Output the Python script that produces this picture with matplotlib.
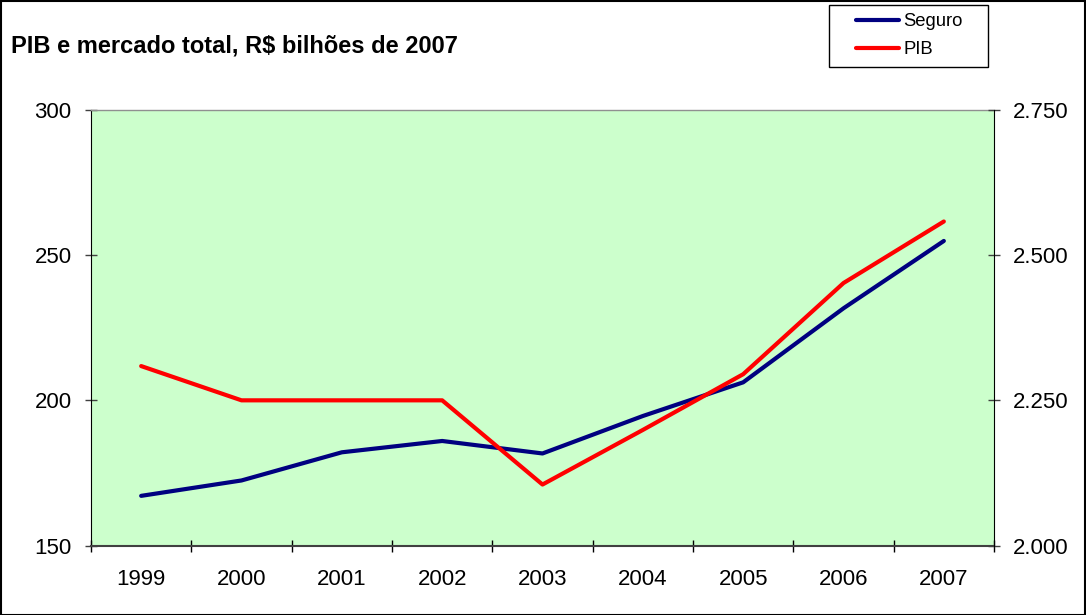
import matplotlib
matplotlib.use("Agg")
import matplotlib.pyplot as plt
from matplotlib.ticker import FixedLocator, FuncFormatter
from matplotlib.patches import Rectangle

years = ["1999", "2000", "2001", "2002", "2003", "2004", "2005", "2006", "2007"]
seguro = [167.1, 172.4, 182.1, 186.0, 181.7, 194.6, 206.2, 231.7, 254.9]
pib = [2309, 2250, 2250, 2250, 2105, 2199, 2295, 2452, 2558]
left_ticks = [150, 200, 250, 300]
right_ticks = [2000, 2250, 2500, 2750]

plt.rcParams['font.family'] = ['Liberation Sans', 'DejaVu Sans']

W, H = 1086, 615
fig = plt.figure(figsize=(W / 100, H / 100), dpi=100)
fig.patch.set_facecolor('white')

ax = fig.add_axes([91 / W, 1 - 545.5 / H, (994 - 91) / W, (545.5 - 110) / H])
ax.set_facecolor('#CCFFCC')
ax2 = ax.twinx()

x = list(range(len(years)))
l1, = ax.plot(x, seguro, color='#000080', lw=3.0, solid_capstyle='round', solid_joinstyle='round', label='Seguro', zorder=3)
l2, = ax2.plot(x, pib, color='#FF0000', lw=3.0, solid_capstyle='round', solid_joinstyle='round', label='PIB', zorder=3)

ax.set_xlim(-0.5, len(years) - 0.5)
ax.set_ylim(150, 300)
ax2.set_ylim(2000, 2750)

# x ticks: marks at boundaries, labels at centres
ax.xaxis.set_major_locator(FixedLocator([i - 0.5 for i in range(len(years) + 1)]))
ax.xaxis.set_major_formatter(FuncFormatter(lambda v, p: ''))
ax.xaxis.set_minor_locator(FixedLocator(x))
ax.xaxis.set_minor_formatter(FuncFormatter(lambda v, p: years[int(round(v))]))
ax.tick_params(axis='x', which='major', direction='inout', length=9, width=1, color='black')
ax.tick_params(axis='x', which='minor', length=0, pad=17, labelsize=16)

ax.set_yticks(left_ticks)
ax.tick_params(axis='y', which='major', direction='inout', length=9, width=1, color='#404040', pad=9.5, labelsize=16)
ax2.set_yticks(right_ticks)
ax2.yaxis.set_major_formatter(FuncFormatter(lambda v, p: f"{v/1000:.3f}"))
ax2.tick_params(axis='y', which='major', direction='inout', length=9, width=1, color='#404040', pad=9, labelsize=16)

for a in (ax, ax2):
    a.spines['top'].set_color('#909090')
    a.spines['top'].set_linewidth(1)
    a.spines['bottom'].set_color('#404040')
    a.spines['bottom'].set_linewidth(1.5)
    a.spines['left'].set_color('black')
    a.spines['right'].set_color('black')
ax.spines['right'].set_visible(False)
ax2.spines['left'].set_visible(False)
ax2.spines['bottom'].set_visible(False)
ax2.spines['top'].set_visible(False)

fig.text(11 / W, 1 - 46 / H, "PIB e mercado total, R$ bilhões de 2007", fontsize=17,
         fontweight='bold', va='center', ha='left')

# legend box
fig.add_artist(Rectangle((829 / W, 1 - 67 / H), (988 - 829) / W, (67 - 5) / H,
                         transform=fig.transFigure, facecolor='white', edgecolor='black', lw=1))
fig.legend([l1, l2], ['Seguro', 'PIB'], loc='upper left', bbox_to_anchor=(856 / W, 1 - 13 / H),
           frameon=False, fontsize=13.3, handlelength=2.35, handletextpad=0.2, borderpad=0,
           labelspacing=0.62, borderaxespad=0)

# figure border
fig.add_artist(Rectangle((0.5 / W, 0.5 / H), (W - 1.5) / W, (H - 1.5) / H, transform=fig.transFigure,
                         facecolor='none', edgecolor='black', lw=1.5))

fig.savefig('out.png', dpi=100)
